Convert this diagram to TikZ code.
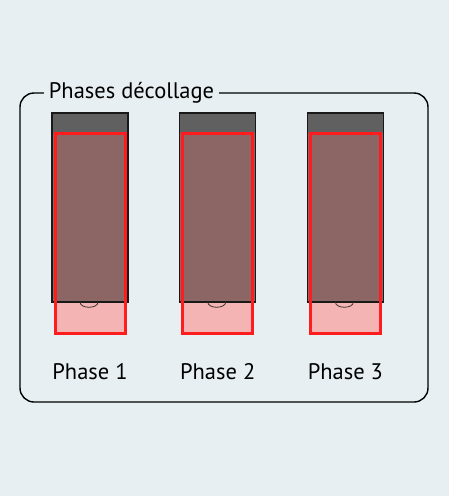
\documentclass[tikz,border=0pt]{standalone}
\usepackage{fontspec}
\setmainfont{PT Sans}
\newcommand{\NC}{2}
\newcommand{\DX}{127.7}
\newcommand{\HW}{38}
\definecolor{pgbg}{RGB}{232,239,242}
\definecolor{capgray}{RGB}{96,96,96}
\definecolor{bodybrown}{RGB}{140,101,101}
\definecolor{extpink}{RGB}{245,180,180}
\definecolor{redline}{RGB}{255,28,28}

\begin{document}
\begin{tikzpicture}[
    x=1pt, y=-1pt,
    frame/.style={draw=black, line width=1.4pt, rounded corners=14pt},
    capband/.style={fill=capgray},
    body/.style={fill=bodybrown},
    ext/.style={fill=extpink},
    outline/.style={draw=black!90, line width=1.5pt},
    redbox/.style={draw=redline, line width=3pt},
    seat/.style={draw=black!80, line width=0.8pt},
    tag/.style={font=\fontsize{22.5}{26}\selectfont, inner sep=0pt},
  ]

  %% page and background
  \fill[pgbg] (0,0) rectangle (449,496);
  \useasboundingbox (0,0) rectangle (449,496);

  %% group frame with its title
  \draw[frame] (20,93) rectangle (428,402);
  \node[tag, fill=pgbg, inner xsep=5pt, inner ysep=3pt, anchor=base] (title) at (131.5,98) {Phases décollage};

  %% the three phases: same column, shifted by \DX
  \foreach \i in {0,...,\NC} {
    \pgfmathsetmacro{\cx}{90+\i*\DX}
    \fill[capband] ({\cx-\HW},113) rectangle ({\cx+\HW},133);
    \fill[body] ({\cx-\HW},133) rectangle ({\cx+\HW},302);
    \fill[ext] ({\cx-35},302) rectangle ({\cx+35},333);
    \draw[outline] ({\cx-\HW},113) rectangle ({\cx+\HW},302);
    % small half circle under the column
    \draw[seat] ({\cx-10},302) .. controls ({\cx-10},309) and ({\cx+8},309) .. ({\cx+8},302);
    \draw[redbox] ({\cx-35},133) rectangle ({\cx+35},333);
    \pgfmathtruncatemacro{\n}{\i+1}
    \node[tag, anchor=base] (ph\n) at (\cx,379) {Phase \n};
  }

\end{tikzpicture}
\end{document}
